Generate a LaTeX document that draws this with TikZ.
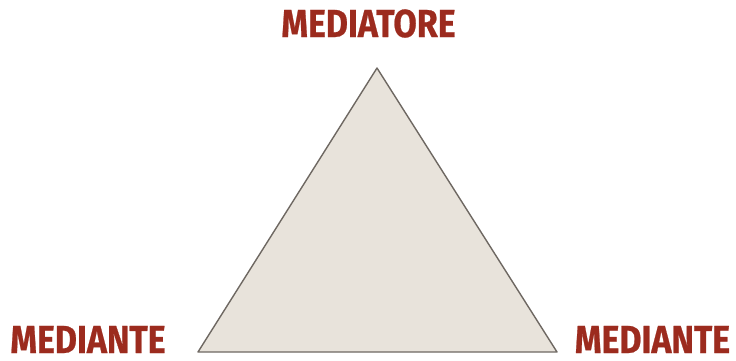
\documentclass[tikz,border=0pt]{standalone}
\usepackage{fontspec}
\newfontfamily\labelfont[FakeStretch=0.87,FakeBold=0.6]{Fira Sans}
\usetikzlibrary{positioning}
\definecolor{labelred}{HTML}{9C2B1E}
\definecolor{trifill}{HTML}{E8E3DB}
\definecolor{tridraw}{HTML}{6E6862}

\begin{document}
\begin{tikzpicture}[x=1pt,y=-1pt,
  lbl/.style={text=labelred,font=\labelfont\bfseries\fontsize{39}{39}\selectfont,inner sep=0pt,text depth=0pt,anchor=base}]
\useasboundingbox (0,0) rectangle (736,360);
\coordinate (apex) at (377,68);
\coordinate (bl) at (198,352);
\coordinate (br) at (557,352);
\filldraw[fill=trifill,draw=tridraw,line width=1.4pt,line join=round] (apex) -- (bl) -- (br) -- cycle;
\node[lbl] (mediatore) at (368.5,37) {MEDIATORE};
\node[lbl] (leftmed) at (88,353) {MEDIANTE};
\node[lbl] (rightmed) at (652.5,353) {MEDIANTE};
\end{tikzpicture}
\end{document}
